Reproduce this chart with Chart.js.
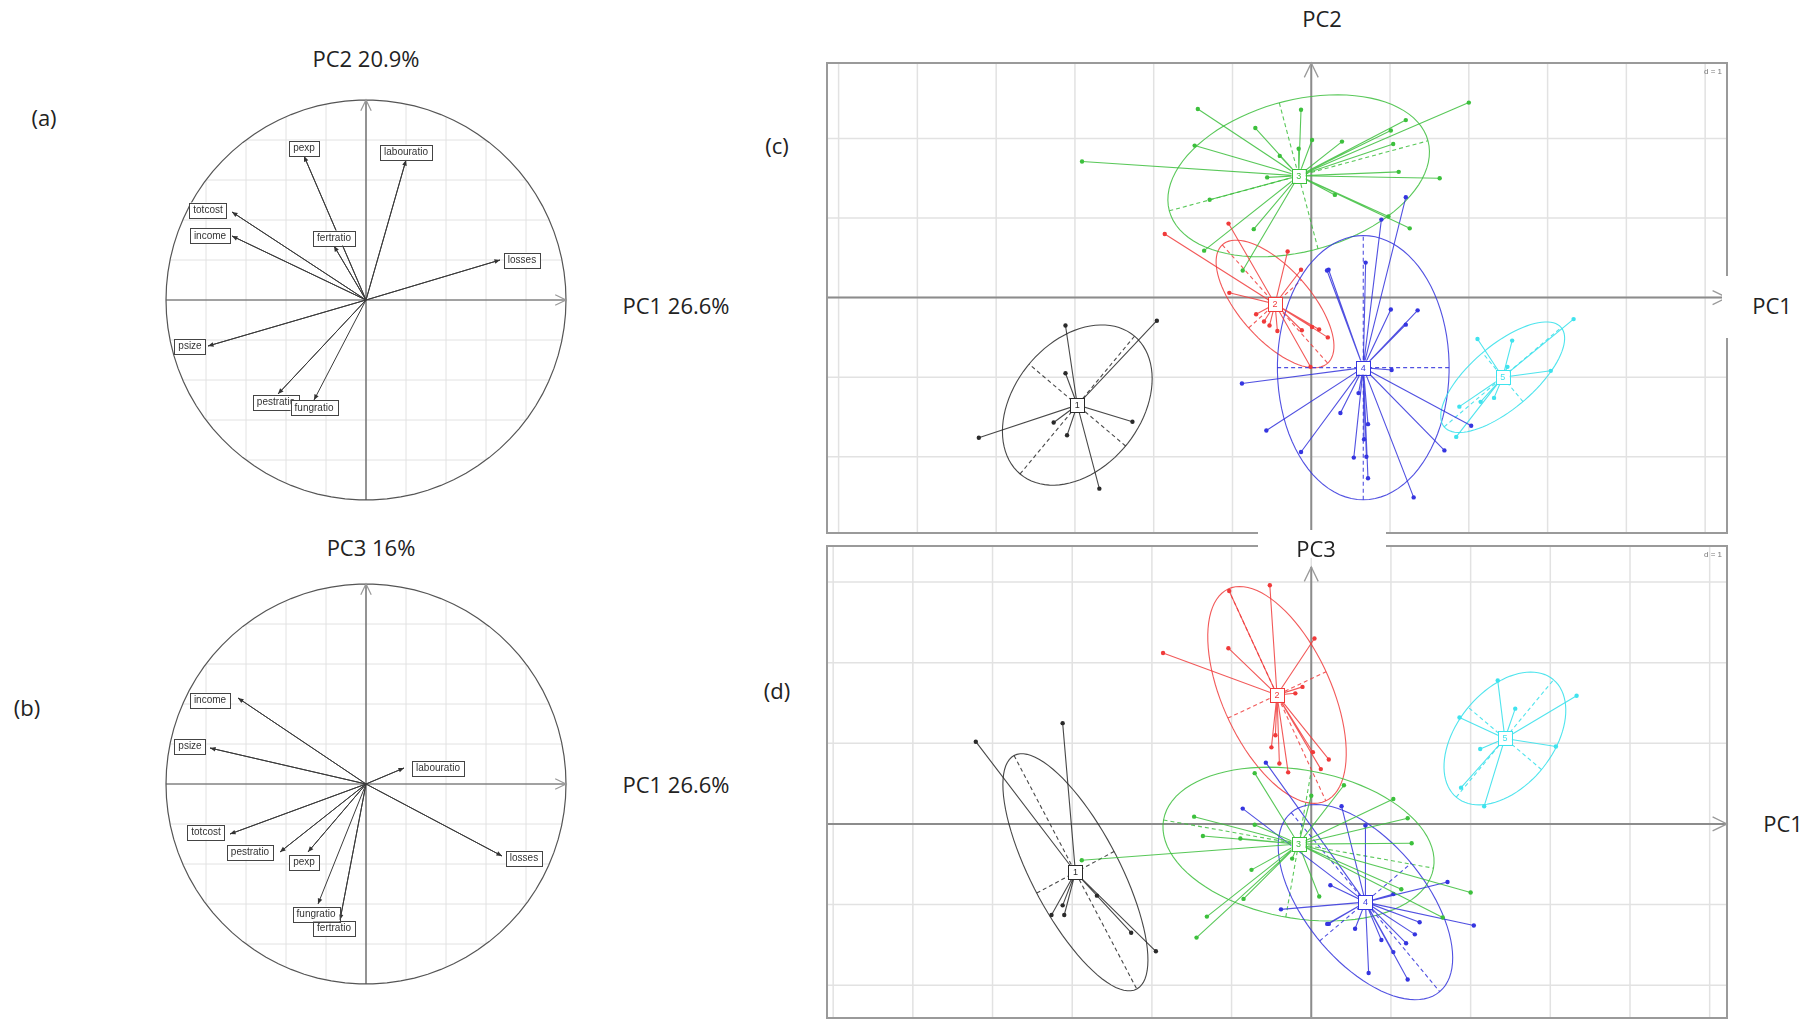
<!DOCTYPE html>
<html>
<head>
<meta charset="utf-8">
<script src="https://cdn.jsdelivr.net/npm/chart.js@4.4.1/dist/chart.umd.min.js"></script>
<style>
  body { margin: 0; background: #fff; width: 1818px; height: 1024px; overflow: hidden; position: relative; font-family: "Open Sans", "Noto Sans", sans-serif; }
  canvas { position: absolute; }
  .txt { position: absolute; color: #222; font-size: 22px; line-height: 1; white-space: nowrap; transform: translate(-50%, -50%); }
  .mask { position: absolute; background: #fff; }
</style>
</head>
<body>
<canvas id="chartA" width="440" height="440" style="left:146px;top:80px"></canvas>
<canvas id="chartB" width="440" height="440" style="left:146px;top:564px"></canvas>
<canvas id="chartC" width="910" height="480" style="left:822px;top:58px"></canvas>
<canvas id="chartD" width="910" height="482" style="left:822px;top:541px"></canvas>

<div class="mask" style="left:1722px;top:276px;width:96px;height:62px"></div>
<div class="mask" style="left:1258px;top:530px;width:128px;height:28px"></div>

<div class="txt" style="left:366px;top:58px">PC2 20.9%</div>
<div class="txt" style="left:44px;top:117px">(a)</div>
<div class="txt" style="left:676px;top:305px">PC1 26.6%</div>
<div class="txt" style="left:371px;top:547px">PC3 16%</div>
<div class="txt" style="left:27px;top:707px">(b)</div>
<div class="txt" style="left:676px;top:784px">PC1 26.6%</div>
<div class="txt" style="left:777px;top:145px">(c)</div>
<div class="txt" style="left:1322px;top:18px">PC2</div>
<div class="txt" style="left:1772px;top:305px">PC1</div>
<div class="txt" style="left:777px;top:690px">(d)</div>
<div class="txt" style="left:1316px;top:548px">PC3</div>
<div class="txt" style="left:1783px;top:823px">PC1</div>

<script>
// === DATA: correlation circles ===
const VAR_NAMES = ["pexp", "labouratio", "totcost", "income", "fertratio", "losses", "psize", "pestratio", "fungratio"];

// (a) PC1 x PC2
const A_TIP_X = [-0.31, 0.20, -0.67, -0.67, -0.16, 0.67, -0.79, -0.44, -0.26];
const A_TIP_Y = [0.72, 0.70, 0.44, 0.32, 0.27, 0.20, -0.23, -0.47, -0.50];
const A_LAB_X = [-0.31, 0.20, -0.79, -0.78, -0.16, 0.78, -0.88, -0.45, -0.26];
const A_LAB_Y = [0.76, 0.74, 0.45, 0.32, 0.31, 0.20, -0.23, -0.51, -0.54];

// (b) PC1 x PC3
const B_TIP_X = [-0.29, 0.19, -0.68, -0.64, -0.13, 0.68, -0.78, -0.43, -0.24];
const B_TIP_Y = [-0.34, 0.08, -0.25, 0.43, -0.68, -0.36, 0.18, -0.34, -0.60];
const B_LAB_X = [-0.31, 0.36, -0.80, -0.78, -0.16, 0.79, -0.88, -0.58, -0.25];
const B_LAB_Y = [-0.39, 0.08, -0.24, 0.42, -0.72, -0.37, 0.19, -0.34, -0.65];

// === DATA: class scores ===
const CLASS_LABELS = ["1", "2", "3", "4", "5"];

// (c) PC1 x PC2
const C_CENTER_X = [-2.97, -0.46, -0.16, 0.66, 2.43];
const C_CENTER_Y = [-1.35, -0.08, 1.53, -0.88, -1.00];
const C_PTS_X = [
    [-3.12, -1.96, -3.12, -4.22, -3.27, -3.10, -2.27, -2.69],
    [-1.05, -1.86, -0.30, -0.13, -1.04, -0.70, -0.53, -0.43, -0.12, 0.01, 0.10, 0.21, -0.01, -0.60],
    [-1.44, -0.71, -0.13, -1.48, -2.91, -0.56, -0.40, -0.16, -1.29, -0.73, -1.36, -0.87, 0.01, 2.00, 1.20, 1.01, 1.04, 0.39, 1.11, 1.63, 0.30, 1.25, 0.98],
    [1.20, 0.89, 0.22, 0.69, 1.01, 1.35, 1.20, 1.02, 0.37, 0.72, 0.67, 0.54, 0.72, 1.30, 1.69, 2.03, -0.13, 0.20, -0.88, -0.57, 0.70, 0.60],
    [3.33, 2.11, 2.55, 3.04, 2.15, 2.32, 1.88, 1.84, 2.49],
];
const C_PTS_Y = [
    [-0.35, -0.29, -0.95, -1.76, -1.57, -1.73, -1.56, -2.40],
    [0.93, 0.80, 0.58, 0.35, 0.06, -0.21, -0.35, -0.42, -0.41, -0.37, -0.40, -0.50, -0.87, -0.30],
    [2.37, 2.13, 2.36, 1.91, 1.71, 1.51, 1.78, 1.87, 1.23, 0.86, 0.59, 0.34, 1.98, 2.45, 2.23, 2.10, 1.93, 1.96, 1.58, 1.50, 1.29, 0.87, 1.02],
    [1.26, 0.98, 0.35, 0.44, -0.15, -0.16, -0.34, -0.91, -1.45, -1.59, -1.78, -2.01, -2.27, -2.51, -1.92, -1.61, -1.94, 0.34, -1.08, -1.67, -2.00, -1.20],
    [-0.27, -0.52, -0.54, -0.92, -1.31, -1.26, -1.37, -1.75, -0.87],
];
const C_ELL_A = [1.13, 1.00, 1.70, 1.66, 0.97];
const C_ELL_B = [0.80, 0.45, 0.95, 1.09, 0.40];
const C_ELL_ANGLE = [50, -48, 15, 90, 40];

// (d) PC1 x PC3
const D_CENTER_X = [-2.96, -0.43, -0.16, 0.68, 2.43];
const D_CENTER_Y = [-0.60, 1.60, -0.25, -0.97, 1.06];
const D_PTS_X = [
    [-4.21, -3.12, -2.69, -2.26, -1.95, -3.26, -3.12, -3.10],
    [-1.03, -0.52, -1.86, -1.04, 0.04, -0.11, -0.50, -0.40, -0.29, 0.02, 0.12, 0.22, -0.20, -0.45],
    [-1.47, -1.36, -0.71, -0.89, -0.71, -0.75, -0.85, -1.31, -1.44, -0.24, -2.88, 0.41, 1.03, 1.21, 1.26, 2.00, 1.13, 1.65, 0.00, 0.10],
    [0.38, 0.68, 0.24, 1.03, 1.71, 2.04, 1.36, 1.30, 1.19, 0.88, 1.03, 1.21, 0.72, 0.55, 0.22, -0.86, -0.57, -0.38, 0.20],
    [2.34, 3.33, 2.56, 1.86, 2.12, 3.07, 1.88, 2.17],
];
const D_PTS_Y = [
    [1.02, 1.25, -0.89, -1.35, -1.58, -1.13, -1.01, -1.13],
    [2.89, 2.96, 2.12, 2.18, 2.30, 1.70, 0.95, 0.75, 0.64, 0.89, 0.68, 0.80, 1.62, 1.10],
    [0.09, -0.15, 0.63, -0.18, -0.01, -0.57, -0.93, -1.15, -1.41, -0.43, -0.45, 0.48, 0.31, 0.07, -0.24, -0.85, -0.81, -1.16, 0.35, -0.90],
    [0.22, -0.02, -0.76, -0.87, -0.72, -1.26, -1.22, -1.37, -1.48, -1.44, -1.59, -1.93, -1.85, -1.30, -1.24, 0.19, 0.76, -1.06, -1.24],
    [1.78, 1.59, 1.43, 1.32, 0.93, 0.96, 0.45, 0.22],
];
const D_ELL_A = [1.64, 1.45, 1.72, 1.45, 0.95];
const D_ELL_B = [0.55, 0.68, 0.92, 0.75, 0.60];
const D_ELL_ANGLE = [-62, -65, -10, -50, 50];

// === STYLE ===
const CLASS_COLORS = ["#2a2a2a", "#f03a3a", "#3cc03c", "#3535e0", "#3fe3ee"];
const CLASS_LINES = ["rgba(40,40,40,0.85)", "rgba(240,60,60,0.85)", "rgba(60,190,60,0.85)", "rgba(50,50,220,0.85)", "rgba(60,225,235,0.9)"];

// === HELPERS ===
function ellipsePath(ctx, sx, sy, cx, cy, a, b, deg) {
    const th = (deg * Math.PI) / 180;
    ctx.beginPath();
    for (let i = 0; i <= 90; i++) {
        const t = (i / 90) * 2 * Math.PI;
        const ex = cx + a * Math.cos(t) * Math.cos(th) - b * Math.sin(t) * Math.sin(th);
        const ey = cy + a * Math.cos(t) * Math.sin(th) + b * Math.sin(t) * Math.cos(th);
        const px = sx.getPixelForValue(ex);
        const py = sy.getPixelForValue(ey);
        if (i === 0) ctx.moveTo(px, py);
        else ctx.lineTo(px, py);
    }
    ctx.closePath();
}

function openArrow(ctx, x0, y0, x1, y1, size) {
    const ang = Math.atan2(y1 - y0, x1 - x0);
    ctx.beginPath();
    ctx.moveTo(x1 - size * Math.cos(ang - 0.45), y1 - size * Math.sin(ang - 0.45));
    ctx.lineTo(x1, y1);
    ctx.lineTo(x1 - size * Math.cos(ang + 0.45), y1 - size * Math.sin(ang + 0.45));
    ctx.stroke();
}

// === CORRELATION CIRCLE ===
function circlePlugin(tipX, tipY, labX, labY) {
    return {
        id: "corcircle",
        beforeDatasetsDraw(chart) {
            const { ctx, scales: { x, y } } = chart;
            ctx.save();
            // grid inside circle
            ellipsePath(ctx, x, y, 0, 0, 1, 1, 0);
            ctx.clip();
            ctx.strokeStyle = "#e2e2e2";
            ctx.lineWidth = 1;
            for (let v = -1; v <= 1.001; v += 0.2) {
                ctx.beginPath();
                ctx.moveTo(x.getPixelForValue(v), y.getPixelForValue(-1));
                ctx.lineTo(x.getPixelForValue(v), y.getPixelForValue(1));
                ctx.moveTo(x.getPixelForValue(-1), y.getPixelForValue(v));
                ctx.lineTo(x.getPixelForValue(1), y.getPixelForValue(v));
                ctx.stroke();
            }
            ctx.restore();
            ctx.save();
            ctx.strokeStyle = "#555";
            ctx.lineWidth = 1.2;
            ellipsePath(ctx, x, y, 0, 0, 1, 1, 0);
            ctx.stroke();
            // axes
            ctx.beginPath();
            ctx.moveTo(x.getPixelForValue(-1), y.getPixelForValue(0));
            ctx.lineTo(x.getPixelForValue(1), y.getPixelForValue(0));
            ctx.moveTo(x.getPixelForValue(0), y.getPixelForValue(-1));
            ctx.lineTo(x.getPixelForValue(0), y.getPixelForValue(1));
            ctx.stroke();
            ctx.strokeStyle = "#999";
            openArrow(ctx, x.getPixelForValue(0), y.getPixelForValue(0), x.getPixelForValue(1), y.getPixelForValue(0), 12);
            openArrow(ctx, x.getPixelForValue(0), y.getPixelForValue(0), x.getPixelForValue(0), y.getPixelForValue(1), 12);
            ctx.restore();
        },
        afterDatasetsDraw(chart) {
            const { ctx, scales: { x, y } } = chart;
            ctx.save();
            ctx.strokeStyle = "#333";
            ctx.fillStyle = "#333";
            VAR_NAMES.forEach((name, i) => {
                const x0 = x.getPixelForValue(0), y0 = y.getPixelForValue(0);
                const x1 = x.getPixelForValue(tipX[i]), y1 = y.getPixelForValue(tipY[i]);
                const ang = Math.atan2(y1 - y0, x1 - x0);
                ctx.beginPath();
                ctx.moveTo(x1, y1);
                ctx.lineTo(x1 - 6 * Math.cos(ang - 0.4), y1 - 6 * Math.sin(ang - 0.4));
                ctx.lineTo(x1 - 6 * Math.cos(ang + 0.4), y1 - 6 * Math.sin(ang + 0.4));
                ctx.closePath();
                ctx.fill();
            });
            ctx.font = "10px 'Liberation Sans', sans-serif";
            ctx.textAlign = "center";
            ctx.textBaseline = "middle";
            VAR_NAMES.forEach((name, i) => {
                const cx = x.getPixelForValue(labX[i]);
                const cy = y.getPixelForValue(labY[i]);
                const w = ctx.measureText(name).width + 8;
                const h = 15;
                ctx.fillStyle = "#fff";
                ctx.fillRect(cx - w / 2, cy - h / 2, w, h);
                ctx.strokeStyle = "#444";
                ctx.lineWidth = 1;
                ctx.strokeRect(Math.round(cx - w / 2) + 0.5, Math.round(cy - h / 2) + 0.5, Math.round(w), h);
                ctx.fillStyle = "#333";
                ctx.fillText(name, cx, cy + 0.5);
            });
            ctx.restore();
        },
    };
}

function makeCircle(id, tipX, tipY, labX, labY) {
    const arrowData = VAR_NAMES.flatMap((_, i) => [{ x: 0, y: 0 }, { x: tipX[i], y: tipY[i] }]);
    return new Chart(document.getElementById(id), {
        type: "scatter",
        data: {
            datasets: [
                {
                    data: arrowData,
                    showLine: true,
                    borderColor: "#3a3a3a",
                    borderWidth: 1,
                    pointRadius: 0,
                },
            ],
        },
        options: {
            responsive: false,
            animation: false,
            layout: { padding: 0 },
            plugins: { legend: { display: false }, tooltip: { enabled: false } },
            scales: {
                x: { type: "linear", min: -1.1, max: 1.1, display: false },
                y: { type: "linear", min: -1.1, max: 1.1, display: false },
            },
        },
        plugins: [circlePlugin(tipX, tipY, labX, labY)],
    });
}

// === CLASS PLOT ===
function classPlugin(cX, cY, ellA, ellB, ellAng, arrowInset) {
    return {
        id: "sclass",
        beforeDatasetsDraw(chart) {
            const { ctx, chartArea: ca, scales: { x, y } } = chart;
            ctx.save();
            // unit grid (d = 1)
            ctx.strokeStyle = "#e2e2e2";
            ctx.lineWidth = 1.5;
            ctx.beginPath();
            for (let v = Math.ceil(x.min); v <= x.max; v++) {
                const px = x.getPixelForValue(v);
                ctx.moveTo(px, ca.top);
                ctx.lineTo(px, ca.bottom);
            }
            for (let v = Math.ceil(y.min); v <= y.max; v++) {
                const py = y.getPixelForValue(v);
                ctx.moveTo(ca.left, py);
                ctx.lineTo(ca.right, py);
            }
            ctx.stroke();
            // axes through origin
            ctx.strokeStyle = "#8c8c8c";
            ctx.lineWidth = 2;
            const ox = x.getPixelForValue(0), oy = y.getPixelForValue(0);
            ctx.beginPath();
            ctx.moveTo(ca.left, oy);
            ctx.lineTo(ca.right, oy);
            ctx.moveTo(ox, ca.bottom);
            ctx.lineTo(ox, ca.top + arrowInset);
            ctx.stroke();
            ctx.lineWidth = 1.3;
            ctx.strokeStyle = "#9a9a9a";
            openArrow(ctx, ca.left, oy, ca.right - 1, oy, 16);
            openArrow(ctx, ox, ca.bottom, ox, ca.top + arrowInset, 16);
            // ellipses and their axes
            CLASS_LABELS.forEach((_, k) => {
                ctx.strokeStyle = CLASS_LINES[k];
                ctx.lineWidth = 1.1;
                ctx.setLineDash([]);
                ellipsePath(ctx, x, y, cX[k], cY[k], ellA[k], ellB[k], ellAng[k]);
                ctx.stroke();
                const th = (ellAng[k] * Math.PI) / 180;
                ctx.setLineDash([4, 3]);
                ctx.beginPath();
                ctx.moveTo(x.getPixelForValue(cX[k] - ellA[k] * Math.cos(th)), y.getPixelForValue(cY[k] - ellA[k] * Math.sin(th)));
                ctx.lineTo(x.getPixelForValue(cX[k] + ellA[k] * Math.cos(th)), y.getPixelForValue(cY[k] + ellA[k] * Math.sin(th)));
                ctx.moveTo(x.getPixelForValue(cX[k] + ellB[k] * Math.sin(th)), y.getPixelForValue(cY[k] - ellB[k] * Math.cos(th)));
                ctx.lineTo(x.getPixelForValue(cX[k] - ellB[k] * Math.sin(th)), y.getPixelForValue(cY[k] + ellB[k] * Math.cos(th)));
                ctx.stroke();
            });
            ctx.restore();
        },
        afterDatasetsDraw(chart) {
            const { ctx, chartArea: ca, scales: { x, y } } = chart;
            ctx.save();
            ctx.font = "9px 'Liberation Sans', sans-serif";
            ctx.textAlign = "center";
            ctx.textBaseline = "middle";
            CLASS_LABELS.forEach((lab, k) => {
                const px = x.getPixelForValue(cX[k]);
                const py = y.getPixelForValue(cY[k]);
                ctx.fillStyle = "#fff";
                ctx.fillRect(px - 7, py - 7, 14, 14);
                ctx.strokeStyle = CLASS_COLORS[k];
                ctx.lineWidth = 1;
                ctx.strokeRect(Math.round(px - 7) + 0.5, Math.round(py - 7) + 0.5, 14, 14);
                ctx.fillStyle = CLASS_COLORS[k];
                ctx.fillText(lab, px, py + 0.5);
            });
            // frame
            ctx.strokeStyle = "#9a9a9a";
            ctx.lineWidth = 2;
            ctx.strokeRect(ca.left + 1, ca.top + 1, ca.right - ca.left - 2, ca.bottom - ca.top - 2);
            ctx.fillStyle = "#777";
            ctx.font = "8px 'Liberation Sans', sans-serif";
            ctx.textAlign = "right";
            ctx.fillText("d = 1", ca.right - 6, ca.top + 10);
            ctx.restore();
        },
    };
}

function makeClassPlot(id, cX, cY, ptsX, ptsY, ellA, ellB, ellAng, xMin, xMax, yMin, yMax, arrowInset) {
    const datasets = CLASS_LABELS.map((lab, k) => ({
        label: lab,
        data: ptsX[k].flatMap((px, i) => [{ x: cX[k], y: cY[k] }, { x: px, y: ptsY[k][i] }]),
        showLine: true,
        borderColor: CLASS_LINES[k],
        borderWidth: 1.1,
        pointRadius: (c) => (c.dataIndex % 2 ? 2.2 : 0),
        pointBackgroundColor: CLASS_COLORS[k],
        pointBorderWidth: 0,
    }));
    return new Chart(document.getElementById(id), {
        type: "scatter",
        data: { datasets },
        options: {
            responsive: false,
            animation: false,
            layout: { padding: 0 },
            plugins: { legend: { display: false }, tooltip: { enabled: false } },
            scales: {
                x: { type: "linear", min: xMin, max: xMax, display: false },
                y: { type: "linear", min: yMin, max: yMax, display: false },
            },
        },
        plugins: [classPlugin(cX, cY, ellA, ellB, ellAng, arrowInset)],
    });
}

makeCircle("chartA", A_TIP_X, A_TIP_Y, A_LAB_X, A_LAB_Y);
makeCircle("chartB", B_TIP_X, B_TIP_Y, B_LAB_X, B_LAB_Y);
makeClassPlot("chartC", C_CENTER_X, C_CENTER_Y, C_PTS_X, C_PTS_Y, C_ELL_A, C_ELL_B, C_ELL_ANGLE, -6.16, 5.29, -2.97, 2.96, 1);
makeClassPlot("chartD", D_CENTER_X, D_CENTER_Y, D_PTS_X, D_PTS_Y, D_ELL_A, D_ELL_B, D_ELL_ANGLE, -6.09, 5.23, -2.42, 3.46, 22);
</script>
</body>
</html>
